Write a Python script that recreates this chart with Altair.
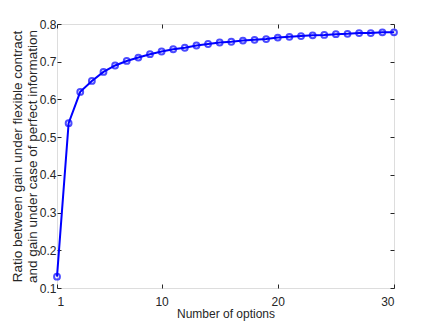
import altair as alt
import pandas as pd

options = list(range(1, 31))
ratio = [0.130, 0.537, 0.620, 0.649, 0.673, 0.690, 0.702, 0.711, 0.720, 0.727,
         0.733, 0.737, 0.743, 0.747, 0.751, 0.753, 0.756, 0.758, 0.760, 0.764,
         0.766, 0.768, 0.770, 0.771, 0.773, 0.774, 0.776, 0.776, 0.778, 0.778]
x_ticks = [1, 10, 20, 30]
y_ticks = [0.1, 0.2, 0.3, 0.4, 0.5, 0.6, 0.7, 0.8]

df = pd.DataFrame({"n": options, "r": ratio})

FONT = "Liberation Sans"
AX = "#262626"
TICK = 4

xs = alt.Scale(domain=[1, 30], nice=False, zero=False)
ys = alt.Scale(domain=[0.1, 0.8], nice=False, zero=False)

common = dict(grid=False, domain=False, tickSize=TICK, offset=-TICK, tickColor=AX,
              labelColor=AX, titleColor=AX, labelFont=FONT, titleFont=FONT,
              labelFontSize=12, titleFontWeight="normal")

base = alt.Chart(df)

line = base.mark_line(color="#0000ff", strokeWidth=2).encode(
    x=alt.X("n:Q", scale=xs,
            axis=alt.Axis(values=x_ticks, title="Number of options", labelPadding=8,
                          titlePadding=1, titleFontSize=12, **common)),
    y=alt.Y("r:Q", scale=ys,
            axis=alt.Axis(values=y_ticks, format=".1f",
                          title=["Ratio between gain under flexible contract",
                                 "and gain under case of perfect information"],
                          labelPadding=1, titlePadding=0, titleFontSize=13.5,
                          titleLineHeight=15, **common)),
)

pts = base.mark_point(color="#0000ff", strokeWidth=2, size=34, filled=False).encode(
    x=alt.X("n:Q", scale=xs, axis=None),
    y=alt.Y("r:Q", scale=ys, axis=None),
)

other = base.mark_point(opacity=0).encode(
    x=alt.X("n:Q", scale=xs,
            axis=alt.Axis(orient="top", values=x_ticks, labels=False, title=None,
                          grid=False, domain=False, tickSize=TICK, offset=-TICK,
                          tickColor=AX)),
    y=alt.Y("r:Q", scale=ys,
            axis=alt.Axis(orient="right", values=y_ticks, labels=False, title=None,
                          grid=False, domain=False, tickSize=TICK, offset=-TICK,
                          tickColor=AX)),
)

chart = alt.layer(line, pts, other).resolve_axis(
    x="independent", y="independent"
).properties(
    width=337, height=264,
    autosize=alt.AutoSizeParams(type="none"),
    padding={"left": 49, "top": 16, "right": 20, "bottom": 40},
).configure_view(stroke=AX, strokeWidth=1).configure(background="white")

chart.save("out.html", embed_options={"renderer": "svg", "actions": False})
